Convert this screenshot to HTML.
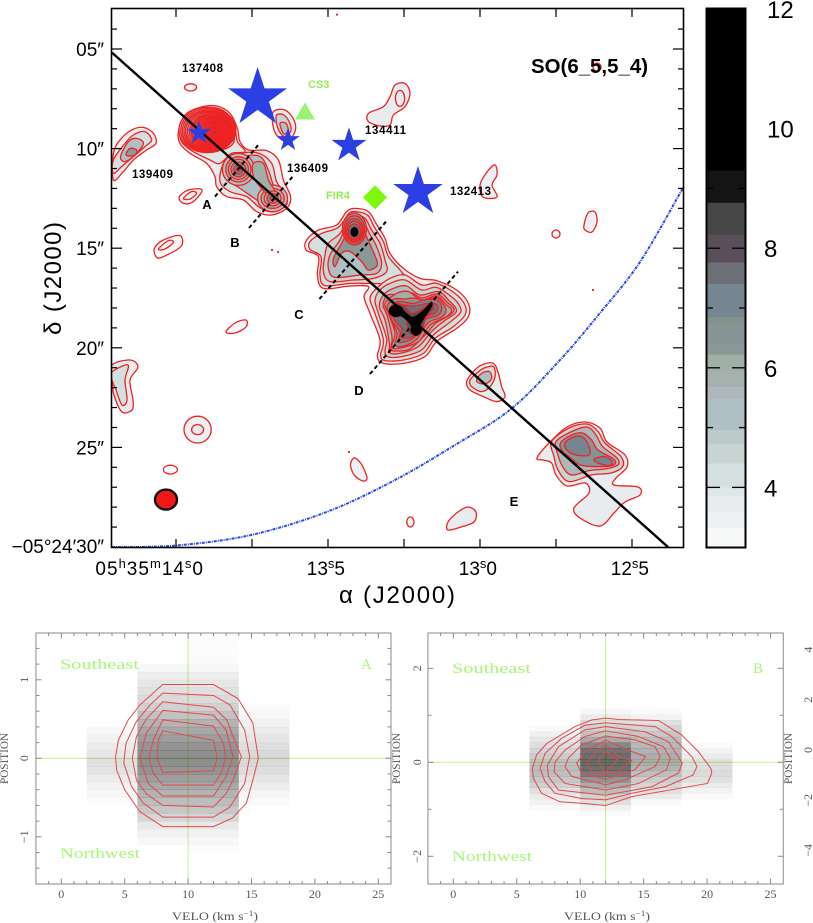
<!DOCTYPE html>
<html lang="en">
<head>
<meta charset="utf-8">
<title>SO(6_5,5_4) map and position-velocity diagrams</title>
<style>
html,body{margin:0;padding:0;background:#fff;}
body{width:813px;height:923px;overflow:hidden;}
svg{display:block;}
.sans{font-family:"Liberation Sans",sans-serif;}
.serif{font-family:"Liberation Serif",serif;}
.src{font-family:"Liberation Sans",sans-serif;font-weight:bold;font-size:11.5px;fill:#000;}
.cut{font-family:"Liberation Sans",sans-serif;font-weight:bold;font-size:13px;fill:#000;text-anchor:middle;}
.green{font-family:"Liberation Sans",sans-serif;font-weight:bold;font-size:11px;fill:#90ee50;}
.pvtxt{font-family:"Liberation Serif",serif;font-size:15px;fill:#a8f57a;}
.pvlab{font-family:"Liberation Serif",serif;font-size:12px;fill:#555;}
</style>
</head>
<body>
<svg id="figure" xmlns="http://www.w3.org/2000/svg" width="813" height="923" viewBox="0 0 813 923">
  <rect x="0" y="0" width="813" height="923" fill="#fff"/>
  <defs>
    <clipPath id="mapClip"><rect x="112" y="9" width="571" height="538"/></clipPath>
  </defs>
  <g id="mapLayer" clip-path="url(#mapClip)"></g>
  <g id="overlayLayer" clip-path="url(#mapClip)"></g>
  <g id="axisLayer"></g>
  <g id="cbarLayer"></g>
  <g id="panelA"></g>
  <g id="panelB"></g>

  <text class="sans" x="531" y="73" font-size="20" font-weight="bold" textLength="117" lengthAdjust="spacingAndGlyphs">SO(6_5,5_4)</text>
  <text class="src" x="182" y="72" textLength="41">137408</text>
  <text class="src" x="132" y="178" textLength="41">139409</text>
  <text class="src" x="287" y="172" textLength="41">136409</text>
  <text class="src" x="365" y="134" textLength="41">134411</text>
  <text class="src" x="450" y="195" textLength="41">132413</text>
  <text class="green" x="308" y="88">CS3</text>
  <text class="green" x="326" y="199">FIR4</text>
  <text class="cut" x="207" y="209">A</text>
  <text class="cut" x="235" y="247">B</text>
  <text class="cut" x="299" y="319">C</text>
  <text class="cut" x="359" y="395">D</text>
  <text class="cut" x="514" y="506">E</text>
  <text class="sans" x="339" y="603" font-size="24" textLength="116" lengthAdjust="spacing">α (J2000)</text>
  <text class="sans" transform="translate(61,335) rotate(-90)" font-size="24" textLength="113" lengthAdjust="spacing">δ (J2000)</text>

  <text class="pvtxt" x="60" y="669" textLength="79" lengthAdjust="spacingAndGlyphs">Southeast</text>
  <text class="pvtxt" x="60" y="858" textLength="80" lengthAdjust="spacingAndGlyphs">Northwest</text>
  <text class="pvtxt" x="361" y="669">A</text>
  <text class="pvlab" x="172" y="920" textLength="86" lengthAdjust="spacingAndGlyphs">VELO (km s<tspan dy="-4" font-size="8">−1</tspan><tspan dy="4">)</tspan></text>
  <text class="pvlab" transform="translate(8,784) rotate(-90)" textLength="51" lengthAdjust="spacingAndGlyphs">POSITION</text>
  <text class="pvlab" transform="translate(400,784) rotate(-90)" textLength="51" lengthAdjust="spacingAndGlyphs">POSITION</text>

  <text class="pvtxt" x="452" y="673" textLength="79" lengthAdjust="spacingAndGlyphs">Southeast</text>
  <text class="pvtxt" x="452" y="861" textLength="80" lengthAdjust="spacingAndGlyphs">Northwest</text>
  <text class="pvtxt" x="753" y="673">B</text>
  <text class="pvlab" x="564" y="920" textLength="86" lengthAdjust="spacingAndGlyphs">VELO (km s<tspan dy="-4" font-size="8">−1</tspan><tspan dy="4">)</tspan></text>
  <text class="pvlab" transform="translate(792,784) rotate(-90)" textLength="51" lengthAdjust="spacingAndGlyphs">POSITION</text>
</svg>

<script>
/* ---------- colour scale (flux level → band colour) ---------- */
const cmapLower = [9.3,8.76,8.22,7.76,7.4,6.85,6.75,6.39,6.22,5.95,5.68,5.48,4.96,4.72,4.4,4,3.85,3.58,3.32,3];
const cmapColor = ['#000000','#141414','#474747','#5a4f58','#6e7078','#768690','#84908a','#869496','#8a9898','#9fb0a6','#a6b0ae','#aeb8bc','#afc0c5','#bccbca','#c8d4d2','#d4e0e0','#dfe6e8','#e8ecee','#eef1f3','#f7f9f9'];
const cbarTicks = [4,5,6,7,8,9];
const cbarLabels = [4,6,8,10,12];

/* ---------- main map axes ---------- */
const raTicks = [14,13.75,13.5,13.25,13,12.75,12.5];
const raLabelValues = [14,13.5,13,12.5];
const raLabelText = ['05h35m14s0','13s5','13s0','12s5'];
const decTicks = [4,5,6,7,8,9,10,11,12,13,14,15,16,17,18,19,20,21,22,23,24,25,26,27,28,29];
const decLabelValues = [5,10,15,20,25,30];
const decLabelText = ['05″','10″','15″','20″','25″','−05°24′30″'];

/* ---------- map contours: [flux level, [east-to-west offset ″, north-to-south offset ″, ...]]
   offsets are relative to RA 14.00s, Dec 05″ ---------- */
const contours = [
 [3.7,[-3.13,5.22,-2.8,4.55,-2.22,4.05,-1.63,3.92,-1.13,4.22,-1,4.72,-1.47,5.05,-2.13,5.55,-2.63,6.13,-3.13,6.55]],
 [4.2,[-3.13,5.55,-2.55,4.72,-2.13,4.3,-1.55,4.13,-1.22,4.55,-1.55,4.88,-2.13,5.38,-2.72,5.88,-3.13,6.22]],
 [5,[-2.77,5.38,-2.38,4.63,-1.97,4.47,-1.63,4.72,-2.05,5.3,-2.55,5.63]],
 [6.3,[-2.5,5.25,-2.3,4.97,-1.97,5.05,-2.05,5.3,-2.38,5.35]],
 [3.7,[.12,4.13,.45,3.3,1.2,2.92,2.03,2.85,2.7,3.22,3.07,3.97,3.2,4.63,3.62,5.05,4.53,5.08,5.12,5.55,5.37,6.55,5.73,7.38,5.53,7.97,4.78,8.3,4.03,8.13,3.37,7.55,2.53,7.38,2.03,6.88,1.95,6.38,1.53,5.72,.7,5.22,.2,4.72]],
 [3.9,[.2,4.13,.5,3.38,1.2,3.02,2.03,2.95,2.62,3.3,2.95,3.97,3.07,4.63,3.45,5.13,2.78,5.22,2.2,5.72,1.7,5.55,.78,5.08,.28,4.63]],
 [4.2,[2.37,5.72,2.87,5.3,4.03,5.18,4.78,5.72,5.03,6.63,5.53,7.38,5.45,7.88,4.7,8.13,4.12,7.88,3.53,7.38,2.7,7.13,2.2,6.63]],
 [4.4,[.33,4.13,.62,3.47,1.2,3.13,2.03,3.05,2.53,3.38,2.83,4.05,2.9,4.63,2.53,4.97,1.87,5.05,1.03,4.97,.45,4.63]],
 [5.2,[2.62,5.88,3.37,5.38,4.2,5.38,4.62,6.05,4.87,6.8,5.28,7.38,5.03,7.88,4.53,7.97,4.03,7.55,3.2,6.97,2.62,6.55]],
 [6,[3.87,5.72,4.37,5.72,4.62,6.55,4.95,7.13,4.7,7.38,4.2,6.88,3.87,6.38]],
 [3.7,[4.87,3.13,5.45,3.05,5.9,3.55,5.95,4.13,5.53,4.63,5.03,4.3,4.83,3.72]],
 [4.4,[5.03,3.3,5.4,3.3,5.7,3.72,5.73,4.13,5.45,4.38,5.17,4.13,5.03,3.72]],
 [5.2,[5.2,3.72,5.5,3.72,5.62,4.13,5.37,4.22]],
 [3.7,[10.95,1.8,11.45,1.72,11.7,2.22,11.45,2.88,10.87,3.3,10.7,3.8,10.2,3.85,9.62,3.63,9.62,3.22,10.37,2.88,10.7,2.38]],
 [3,[.17,7.38,.62,7.05,1.28,7.02,1.12,7.38,.7,7.72,.28,7.67]],
 [3.4,[.37,7.47,.78,7.13,1.03,7.22,.7,7.5]],
 [3,[-1.08,9.97,-.63,9.55,.2,9.33,.25,9.87,-.63,10.38,-.97,10.42]],
 [3.4,[-.88,10,-.38,9.58,-.13,9.67,-.55,10]],
 [3,[2.5,14.15,2.95,13.7,3.5,13.55,3.5,13.9,2.95,14.2]],
 [3.4,[15.2,6.8,15.55,6.15,15.95,5.8,16.05,6.3,15.8,6.8,16.05,7.4,15.35,7.4]],
 [3.4,[20.4,8.8,20.6,8.2,20.95,8.15,21.05,8.65,20.8,9.15,20.45,9.05]],
 [3.4,[8.75,20.65,8.95,20.45,9.3,20.8,9.55,21.45,9.35,21.6,8.95,21.35,8.75,20.95]],
 [3.7,[13.6,24.05,13.6,23.65,14.1,23.15,14.6,22.9,15,23.15,14.9,23.65,14.25,23.9]],
 [3.7,[-3.2,15.8,-2.3,15.55,-1.9,15.9,-2.3,16.55,-2.15,17.55,-2.2,18.05,-2.7,18.15,-3.1,17.3,-3.2,16.55]],
 [4.2,[-3.2,16.15,-2.4,15.8,-2.55,16.55,-2.45,17.55,-2.7,17.8,-3,17.05,-3.2,16.55]],
 [3.7,[8.95,7.97,9.62,8.13,10,8.72,10.45,9.47,10.7,10.22,11.37,10.97,12.2,11.47,13.03,11.58,14.03,12.05,14.62,12.72,14.62,13.38,14.03,13.97,13.03,14.63,12.45,15.38,11.37,15.72,10.37,15.72,10.07,15.38,10.2,14.55,9.7,13.22,9.4,12.38,9.62,11.88,8.7,11.85,7.37,11.97,7.07,11.3,7.12,10.38,6.5,10.05,6.53,9.55,7.12,9.05,8.03,8.8,8.53,8.13]],
 [4,[8.95,8.13,9.57,8.3,9.9,8.88,10.37,9.63,10.62,10.38,11.2,11.05,11.45,11.47,10.7,11.72,9.7,11.72,8.7,11.72,7.45,11.83,7.2,11.3,7.25,10.38,6.7,10.02,6.7,9.63,7.28,9.22,8.12,8.92,8.62,8.25]],
 [4.6,[8.95,8.3,9.45,8.47,9.78,9.05,10.2,9.72,10.45,10.55,10.53,11.13,9.87,11.47,8.87,11.55,7.7,11.63,7.37,11.13,7.45,10.3,7.62,9.72,8.2,9.22,8.67,8.47]],
 [5.2,[8.95,8.47,9.37,8.63,9.67,9.22,10.03,9.88,10.28,10.72,10.03,11.22,9.2,11.3,7.95,11.42,7.62,10.97,7.7,10.3,8.2,9.55,8.53,8.8]],
 [6.3,[8.95,8.58,9.28,8.8,9.53,9.38,9.9,10.22,10.07,10.8,9.62,11.05,9.28,10.63,8.7,10.13,8.28,10.22,7.95,10.88,7.87,10.47,8.28,9.72,8.62,9.05]],
 [4,[10.7,11.47,11.45,11.3,12.28,11.8,13.03,11.72,13.95,12.22,14.45,12.8,14.45,13.3,13.87,13.88,12.95,14.47,12.37,15.22,11.37,15.55,10.45,15.58,10.23,15.3,10.37,14.55,9.95,13.22,9.7,12.47,10.03,11.97]],
 [4.6,[10.7,11.72,11.45,11.55,12.28,12.05,13.03,11.92,13.87,12.47,14.2,12.88,14.2,13.22,13.62,13.72,12.87,14.3,12.28,15.05,11.28,15.38,10.57,15.38,10.45,15.05,10.53,14.47,10.12,13.22,9.95,12.55,10.2,12.05]],
 [5.2,[10.87,11.97,11.53,11.85,12.2,12.3,13.12,12.13,13.7,12.63,14,12.97,13.95,13.22,13.37,13.63,12.78,14.13,12.12,14.88,11.2,15.22,10.67,15.18,10.67,14.72,10.45,13.55,10.17,12.88,10.37,12.3]],
 [5.7,[11.3,12.3,11.8,12.2,12.3,12.45,13.05,12.25,13.6,12.7,13.9,13,13.7,13.3,13,13.7,12.45,14.3,11.7,15,11,15.1,10.75,15,10.8,14.4,10.55,13.3,10.35,12.8,10.6,12.3]],
 [6.1,[11.03,12.22,11.62,12.13,12.28,12.55,13.03,12.35,13.53,12.8,13.78,13.05,13.53,13.38,12.7,13.8,12.12,14.63,11.12,14.97,10.78,14.88,10.95,14.22,10.62,13.22,10.45,12.72]],
 [6.5,[11.4,12.5,11.9,12.45,12.35,12.55,13.05,12.45,13.4,12.8,13.5,13.1,13.3,13.4,12.6,13.7,12.05,14.5,11.4,14.85,10.95,14.8,11.05,14.2,10.7,13.4,10.55,12.85,10.9,12.5]],
 [6.9,[11.87,12.72,12.37,12.55,13.03,12.55,13.28,12.88,13.12,13.3,12.45,13.55,11.95,14.38,11.45,14.63,11.12,14.63,11.2,14.13,10.78,13.55,10.7,12.97,11.12,12.63]],
 [7.5,[11.9,12.85,12.4,12.75,12.9,12.72,13.1,12.9,12.95,13.2,12.4,13.45,11.95,14.3,11.5,14.45,11.25,14.4,11.3,14,10.9,13.5,10.85,13,11.15,12.8]],
 [8,[12.37,12.97,12.7,12.72,12.87,12.97,12.53,13.38,12.28,14.05,11.95,14.3,11.62,14.13,11.45,13.38,10.87,13.38,10.7,12.97,11.03,12.72,11.45,12.88,11.78,13.22]],
 [10,[10.87,12.88,11.2,12.97,11.45,13.3,11.87,13.38,12.28,13.13,12.7,12.72,12.83,12.8,12.53,13.3,12.23,13.8,12.28,14.13,12,14.35,11.73,14.13,11.73,13.8,11.28,13.38,10.9,13.3]],
 [3.7,[15.28,15.8,15.87,15.72,16.12,16.22,16.28,16.88,16.45,17.38,16.03,17.63,15.37,17.38,14.7,17.05,14.53,16.63,14.87,16.13]],
 [4.2,[15.37,15.97,15.87,15.88,15.95,16.38,15.7,16.88,15.28,17.13,14.78,16.88,14.7,16.55,15.03,16.22]],
 [5,[15.28,16.22,15.67,16.13,15.78,16.47,15.53,16.72,15.2,16.72,15.03,16.55]],
 [3.7,[18.05,20.45,18.65,19.7,19.55,18.9,20.45,18.65,21.2,18.95,21.55,19.65,22.45,20.3,22.55,20.9,22,21.45,21.9,21.8,23.1,21.9,23.2,22.3,22.45,22.65,21.9,23.2,21.2,23.85,20.2,23.45,19.9,22.95,20.65,22.2,20.45,21.7,19.55,21.85,19,21.3,18.78,20.7,18.35,20.55]],
 [4.4,[18.78,19.63,19.65,18.95,20.55,18.75,21.1,19.13,21.45,19.7,22.25,20.38,22.33,20.88,21.75,21.2,20.78,21.3,19.65,21.63,19.1,21.05,18.9,20.38]],
 [5.6,[19,19.63,19.78,19.13,20.55,18.9,21,19.3,21.33,19.88,22.05,20.45,22.1,20.8,21.45,21,20.65,21.08,19.78,21.3,19.33,20.88,19.1,20.3]],
 [6.5,[19.22,19.7,19.78,19.3,20.33,19.2,20.78,19.55,21.1,20.05,21.88,20.5,21.88,20.8,21.1,20.88,20.22,20.8,19.65,20.38,19.33,20.13]],
 [7.2,[19.45,19.7,19.88,19.4,20.33,19.4,20.65,19.88,20.65,20.3,20,20.3,19.55,20.05]],
 [7.2,[20.9,20.5,21.45,20.38,21.8,20.63,21.65,20.83,21.1,20.7]]
];

/* rings: [flux level, offset E-W, offset N-S, radius E-W, radius N-S] in arcsec */
const rings = [
 [3.4,.73,1.92,.3,.18],[3.8,11.2,2.47,.23,.4],
 [4.5,1.57,4.05,1.42,1.13],[4.6,1.6,4.06,1.36,1.08],[4.7,1.62,4.08,1.3,1.03],[4.85,1.63,4.09,1.23,.98],[5,1.65,4.1,1.17,.93],[5.1,1.67,4.11,1.1,.88],[5.2,1.7,4.12,1.03,.83],[5.35,1.72,4.12,.97,.78],
 [5.5,1.73,4.13,.92,.73],[5.65,1.75,4.13,.86,.68],[5.8,1.77,4.13,.8,.63],[5.95,1.78,4.14,.73,.58],[6.1,1.8,4.15,.67,.53],[6.25,1.81,4.15,.61,.48],[6.4,1.83,4.15,.55,.43],[6.6,1.85,4.16,.49,.38],
 [6.8,1.87,4.17,.43,.33],[7,1.88,4.17,.37,.29],[7.2,1.9,4.17,.32,.25],[7.4,1.9,4.17,.26,.21],[7.6,1.9,4.17,.2,.17],[7.8,1.9,4.17,.15,.12],[8,1.9,4.17,.1,.08],
 [5.4,3.12,6.02,.8,.8],[5.8,3.12,6.02,.63,.63],[6.2,3.12,6.02,.5,.5],[6.6,3.12,6.02,.37,.37],[7,3.12,6.02,.23,.23],[7.6,3.12,6.02,.1,.1],
 [5.4,4.83,7.47,.75,.67],[5.8,4.83,7.47,.58,.5],[6.2,4.83,7.47,.42,.37],[6.8,4.83,7.47,.28,.25],[7.4,4.83,7.47,.13,.1],
 [6.6,8.92,9,.6,.8],[6.8,8.92,9.02,.52,.68],[7,8.92,9.05,.45,.57],[7.2,8.92,9.08,.38,.47],[7.5,8.92,9.12,.31,.37],
 [10,8.92,9.15,.2,.25],[7.6,8.92,9.15,.12,.12],
 [6,9.7,10.77,.17,.2],
 [10.5,11,13.1,.37,.3],[8,11,13.1,.13,.1],
 [3.4,1.08,19.03,.68,.67],[3.7,1.08,19.03,.3,.25],
 [3,-.28,21.03,.35,.22],
 [3,19,9.25,.2,.2],
 [3,11.72,23.65,.18,.25],
 [3,21.05,.9,.2,.2]
];
/* isolated one-pixel detections: offset E-W, offset N-S */
const dotOffsetX = [8.05,4.8,5.1,20.85,8.65];
const dotOffsetY = [-1.72,10.05,10.15,12.05,20.15];

/* ---------- overlays on the map ---------- */
const arcOffsetX = [-3.2,-.05,3.75,7.58,10.95,13.95,16.75,19.2,21.2,23.2,25.35];
const arcOffsetY = [24.9,24.83,24.3,23.13,21.55,19.8,18,15.55,13.2,10.65,6.95];
const axisLineX = [-3.2,24.6];
const axisLineY = [.185,24.9];
const cutNames = ['a','b','c','d'];
const cutStartX = [1.95,3.65,7.17,9.7];
const cutStartY = [7.38,8.95,12.5,16.25];
const cutEndX = [4.115,5.9,10.5,14.1];
const cutEndY = [4.8,6.3,8.63,11.13];
const starX = [4.08,1.15,5.6,8.65,12.1];
const starY = [2.45,4.2,4.55,4.83,7.15];
const starR = [1.55,.62,.62,.92,1.3];
const beam = [-.5,22.53,.55,.5];
const cs3 = [6.45,3.1];
const fir4 = [9.95,7.42];

/* ---------- position-velocity panels ---------- */
const pvVelTicks = [-1,0,1,2,3,4,5,6,7,8,9,10,11,12,13,14,15,16,17,18,19,20,21,22,23,24,25];
const pvVelLabels = [0,5,10,15,20,25];

const pvAPosTicks = [-1.4,-1.2,-1,-.8,-.6,-.4,-.2,0,.2,.4,.6,.8,1,1.2,1.4];
const pvAPosLabels = [-1,0,1];
const pvABinStart = [2,6,10,14];
const pvARows = [1.55,1.45,1.35,1.25,1.15,1.05,.95,.85,.75,.65,.55,.45,.35,.25,.15,.05,-.05,-.15,-.25,-.35,-.45,-.55,-.65,-.75,-.85,-.95,-1.05,-1.15];
const pvABin1 = [0,0,0,0,0,0,0,0,0,0,0,0,.03,.05,.08,.1,.12,.11,.08,.05,.03,.01,0,0,0,0,0,0];
const pvABin2 = [0,0,0,0,.03,.07,.1,.12,.14,.18,.24,.3,.34,.38,.42,.44,.44,.42,.38,.34,.3,.26,.22,.16,.09,.05,.03,0];
const pvABin3 = [.01,.01,.01,.02,.03,.07,.1,.12,.14,.18,.24,.3,.34,.38,.42,.44,.44,.42,.38,.34,.3,.26,.22,.16,.09,.05,.03,.01];
const pvABin4 = [0,0,0,0,0,0,0,0,0,.02,.03,.05,.08,.1,.13,.15,.15,.13,.1,.07,.04,.02,0,0,0,0,0,0];
const pvAContours = [
 [8,.94,12,.94,13.94,.76,15.1,.45,15.54,0,15.1,-.28,14.6,-.57,13.5,-.76,12,-.87,8,-.87,6.2,-.68,5,-.4,4.36,-.15,4.28,.02,4.5,.23,5.28,.49,6.2,.68],
 [8,.83,12,.8,13.3,.68,14.46,.36,14.86,.02,14.46,-.32,13.3,-.62,12,-.75,8,-.75,6.46,-.57,5.54,-.36,4.93,-.06,5.1,.19,5.93,.47,7,.68],
 [8,.72,12,.65,13.05,.49,13.54,.28,14.2,.02,13.54,-.28,13,-.45,12,-.62,8,-.6,6.7,-.45,5.93,-.28,5.6,0,5.93,.28,6.7,.5],
 [8,.61,12,.55,13,.36,13.54,.02,13,-.23,12,-.48,8,-.48,6.85,-.32,6.2,0,6.7,.32],
 [8,.49,12,.41,12.8,.19,12.96,0,12.6,-.19,12,-.34,8,-.34,7.25,-.19,6.9,0,7.25,.23],
 [8,.35,12,.23,12.3,0,12,-.16,8,-.18,7.56,0,7.64,.23]
];

const pvBPosTicks = [-2,-1,0,1,2];
const pvBPosLabels = [-2,0,2];
const pvBExtraLabels = [-4,-2,0,2,4];
const pvBBinStart = [6,10,14,18];
const pvBRows = [1.08,.96,.84,.72,.6,.48,.36,.24,.12,0,-.12,-.24,-.36,-.48,-.6,-.72,-.84,-.96,-1.08];
const pvBBin1 = [0,0,0,.02,.06,.1,.13,.17,.2,.24,.26,.25,.22,.18,.12,.08,.05,.02,0];
const pvBBin2 = [.03,.08,.13,.18,.24,.33,.47,.55,.57,.58,.57,.52,.42,.33,.26,.18,.12,.06,.02];
const pvBBin3 = [.02,.05,.12,.17,.22,.26,.28,.3,.32,.32,.3,.25,.2,.16,.12,.08,.02,0,0];
const pvBBin4 = [0,0,0,0,0,0,.02,.05,.08,.12,.13,.14,.12,.08,.05,.02,0,0,0];
const pvBContours = [
 [12.01,.94,13,.91,16.16,.89,18,.58,19.3,.23,20.3,-.13,20.37,-.23,20.03,-.45,16.43,-.62,14.06,-.73,12.01,-.92,10.12,-.87,8.41,-.84,6.96,-.66,6.31,-.34,6.23,-.13,6.57,.16,7.36,.4,9.59,.76,10.9,.9],
 [12,.84,15.9,.76,17.2,.55,18.8,.12,19.2,-.09,18.9,-.27,16.7,-.52,14.06,-.66,12,-.8,10.1,-.77,8.02,-.66,7.23,-.41,6.83,-.13,7.23,.19,8.54,.51,10.38,.79],
 [12,.76,15.1,.65,16.95,.44,18.05,-.02,17.74,-.23,15.64,-.52,12,-.7,8.28,-.59,7.49,-.3,7.41,-.06,8.28,.33,10.38,.69],
 [12,.67,14.6,.55,16.56,.33,17.1,.09,16.8,-.16,14.6,-.45,12,-.59,8.8,-.45,7.94,-.2,8.02,.01,8.8,.26,10.38,.55],
 [12,.56,14.3,.48,15.9,.33,16.3,.12,15.9,-.09,13.5,-.38,12,-.48,9.33,-.3,8.8,-.09,9.07,.09,10.12,.37],
 [12,.47,14.06,.23,15.16,.12,14.3,-.16,12,-.36,10.12,-.23,9.72,-.02,10.38,.23],
 [12,.38,13,.12,14.06,.04,13,-.2,12,-.27,10.9,-.2,10.56,.01,11.03,.16],
 [12,.23,12.93,.05,12,-.22,11.38,.01]
];

/* ---------- axis functions ---------- */
const alpha = ra => 176 + (14 - ra) * 304;
const delta = dec => 49 + (dec - 5) * 19.92;
const mapX = dx => alpha(14 - dx / 15.2);
const mapY = dy => delta(5 + dy * 20 / 19.92);
const cbarY = v => 9 + (12 - v) * 59.8;
const NS = 'http://www.w3.org/2000/svg';
function add(parent, tag, attrs, text) {
  const el = document.createElementNS(NS, tag);
  for (const k in attrs) el.setAttribute(k, attrs[k]);
  if (text !== undefined) el.textContent = text;
  parent.appendChild(el);
  return el;
}
function levelColor(v) {
  for (let i = 0; i < cmapLower.length; i++) if (v >= cmapLower[i]) return cmapColor[i];
  return '#ffffff';
}
function closedSpline(p) {
  const n = p.length;
  let d = 'M' + p[0][0].toFixed(2) + ' ' + p[0][1].toFixed(2);
  for (let i = 0; i < n; i++) {
    const a = p[(i - 1 + n) % n], b = p[i], c = p[(i + 1) % n], e = p[(i + 2) % n];
    d += 'C' + (b[0] + (c[0] - a[0]) / 6).toFixed(2) + ' ' + (b[1] + (c[1] - a[1]) / 6).toFixed(2) + ' ' +
         (c[0] - (e[0] - b[0]) / 6).toFixed(2) + ' ' + (c[1] - (e[1] - b[1]) / 6).toFixed(2) + ' ' +
         c[0].toFixed(2) + ' ' + c[1].toFixed(2);
  }
  return d + 'Z';
}
function openSpline(p) {
  const n = p.length;
  let d = 'M' + p[0][0].toFixed(2) + ' ' + p[0][1].toFixed(2);
  for (let i = 0; i < n - 1; i++) {
    const a = p[Math.max(i - 1, 0)], b = p[i], c = p[i + 1], e = p[Math.min(i + 2, n - 1)];
    d += 'C' + (b[0] + (c[0] - a[0]) / 6).toFixed(2) + ' ' + (b[1] + (c[1] - a[1]) / 6).toFixed(2) + ' ' +
         (c[0] - (e[0] - b[0]) / 6).toFixed(2) + ' ' + (c[1] - (e[1] - b[1]) / 6).toFixed(2) + ' ' +
         c[0].toFixed(2) + ' ' + c[1].toFixed(2);
  }
  return d;
}
function starPath(cx, cy, R) {
  let d = '';
  for (let i = 0; i < 10; i++) {
    const r = i % 2 ? R * 0.382 : R, t = -Math.PI / 2 + i * Math.PI / 5;
    d += (i ? 'L' : 'M') + (cx + r * Math.cos(t)).toFixed(2) + ' ' + (cy + r * Math.sin(t)).toFixed(2);
  }
  return d + 'Z';
}

/* ---------- contour map ---------- */
const mapLayer = document.getElementById('mapLayer');
const marks = [];
contours.forEach(c => marks.push({level: c[0], poly: c[1]}));
rings.forEach(r => marks.push({level: r[0], ring: r}));
marks.map((m, i) => [m, i]).sort((a, b) => a[0].level - b[0].level || a[1] - b[1]).forEach(([m]) => {
  const fill = levelColor(m.level);
  if (m.poly) {
    const pts = [];
    for (let i = 0; i < m.poly.length; i += 2) pts.push([mapX(m.poly[i]), mapY(m.poly[i + 1])]);
    const el = add(mapLayer, 'path', {d: closedSpline(pts), fill: fill, stroke: m.level >= 9 ? 'none' : '#ee2222', 'stroke-width': 1.3, 'stroke-linejoin': 'round'});
    
    
  } else {
    const r = m.ring;
    const rx = mapX(r[3]) - mapX(0), ry = mapY(r[4]) - mapY(0);
    const el = add(mapLayer, 'ellipse', {cx: mapX(r[1]), cy: mapY(r[2]), rx: rx, ry: ry, fill: fill, stroke: m.level >= 9 ? 'none' : '#ee2222', 'stroke-width': 1.3});
    
    
  }
});
dotOffsetX.forEach((dx, i) => {
  const el = add(mapLayer, 'circle', {cx: mapX(dx), cy: mapY(dotOffsetY[i]), r: 1.1, fill: '#ee2222'});
  
  
});

/* ---------- overlays ---------- */
const overlay = document.getElementById('overlayLayer');
const arcEl = add(overlay, 'path', {d: openSpline(arcOffsetX.map((x, i) => [mapX(x), mapY(arcOffsetY[i])])), fill: 'none', stroke: '#2a46e6', 'stroke-width': 2, 'stroke-dasharray': '3 1 1 1'});


const axisEl = add(overlay, 'line', {x1: mapX(axisLineX[0]), y1: mapY(axisLineY[0]), x2: mapX(axisLineX[1]), y2: mapY(axisLineY[1]), stroke: '#000', 'stroke-width': 2.4});


cutNames.forEach((n, i) => {
  const el = add(overlay, 'line', {x1: mapX(cutStartX[i]), y1: mapY(cutStartY[i]), x2: mapX(cutEndX[i]), y2: mapY(cutEndY[i]), stroke: '#000', 'stroke-width': 2, 'stroke-dasharray': '4 3'});
  
  
});
starX.forEach((x, i) => {
  const el = add(overlay, 'path', {d: starPath(mapX(x), mapY(starY[i]), starR[i] * 20), fill: '#2b3fe4'});
  
  
});
const tri = add(overlay, 'path', {d: 'M' + mapX(cs3[0]) + ' ' + (mapY(cs3[1]) - 8.5) + 'l10 17h-20z', fill: '#9cf270'});


const dia = add(overlay, 'path', {d: 'M' + mapX(fir4[0]) + ' ' + (mapY(fir4[1]) - 12) + 'l12 12l-12 12l-12 -12z', fill: '#7cf80a'});


const beamEl = add(overlay, 'ellipse', {cx: mapX(beam[0]), cy: mapY(beam[1]), rx: beam[2] * 20, ry: beam[3] * 20, fill: '#f01818', stroke: '#111', 'stroke-width': 2.4});



/* ---------- map axes ---------- */
const axisLayer = document.getElementById('axisLayer');
const frame = add(axisLayer, 'rect', {x: 111.5, y: 8.5, width: 572, height: 539, fill: 'none', stroke: '#000', 'stroke-width': 1.6});


raTicks.forEach(ra => {
  const x = alpha(ra);
  const a = add(axisLayer, 'line', {x1: x, y1: 9, x2: x, y2: 17, stroke: '#000', 'stroke-width': 1.2});
  
  
  const b = add(axisLayer, 'line', {x1: x, y1: 547, x2: x, y2: 539, stroke: '#000', 'stroke-width': 1.2});
  
  
});
decTicks.forEach(dec => {
  const y = delta(dec), len = dec % 5 === 0 ? 10 : 5;
  const a = add(axisLayer, 'line', {x1: 112, y1: y, x2: 112 + len, y2: y, stroke: '#000', 'stroke-width': 1.2});
  
  
  const b = add(axisLayer, 'line', {x1: 683, y1: y, x2: 683 - len, y2: y, stroke: '#000', 'stroke-width': 1.2});
  
  
});
decLabelValues.forEach((d, i) => {
  const el = add(axisLayer, 'text', {x: 104, y: Math.min(delta(d), 546) + 7, 'text-anchor': 'end', 'font-size': 19, 'font-family': '"Liberation Sans",sans-serif'}, decLabelText[i]);
  
  
});
raLabelValues.forEach((ra, i) => {
  const el = add(axisLayer, 'text', {x: alpha(ra) + (i === 0 ? 28 : 17), y: 575, 'text-anchor': 'end', 'font-size': 19, 'letter-spacing': i === 0 ? 1 : 0, 'font-family': '"Liberation Sans",sans-serif'});
  
  
  raLabelText[i].split(/([hms])/).forEach(part => {
    if (!part) return;
    const sup = /^[hms]$/.test(part);
    const ts = add(el, 'tspan', sup ? {'font-size': 13, dy: -7} : {dy: el.childNodes.length ? 7 : 0}, part);
    
    
  });
});

/* ---------- colour bar ---------- */
const cbar = document.getElementById('cbarLayer');
cmapLower.forEach((low, i) => {
  const top = i === 0 ? 12 : cmapLower[i - 1];
  const el = add(cbar, 'rect', {x: 707, y: cbarY(top), width: 38, height: cbarY(low) - cbarY(top) + .4, fill: cmapColor[i]});
  
  
});
const cbFrame = add(cbar, 'rect', {x: 706.5, y: 8.5, width: 39, height: 539, fill: 'none', stroke: '#000', 'stroke-width': 2});


cbarTicks.forEach(v => {
  const y = cbarY(v), len = v % 2 === 0 ? 13 : 6;
  const a = add(cbar, 'line', {x1: 707, y1: y, x2: 707 + len, y2: y, stroke: '#000', 'stroke-width': 1.3});
  
  
  const b = add(cbar, 'line', {x1: 745, y1: y, x2: 745 - len, y2: y, stroke: '#000', 'stroke-width': 1.3});
  
  
});
cbarLabels.forEach(v => {
  const el = add(cbar, 'text', {x: v >= 10 ? 767 : 764, y: cbarY(v) + 9, 'font-size': 24, 'font-family': '"Liberation Sans",sans-serif'}, String(v));
  
  
});

/* ---------- PV panels ---------- */
function drawPanel(g, xOf, yOf, bins, rows, binValues, rowStep, pvContours, crossV, yTicks, yLabels, labelX) {
  const frameL = xOf(-2), frameR = xOf(26), frameT = 633, frameB = 884;
  const ch = add(g, 'line', {x1: xOf(crossV), y1: frameT, x2: xOf(crossV), y2: frameB, stroke: '#c6f28e', 'stroke-width': 1});
  
  
  const cv = add(g, 'line', {x1: frameL, y1: yOf(0), x2: frameR, y2: yOf(0), stroke: '#c6f28e', 'stroke-width': 1});
  
  
  bins.forEach((start, b) => {
    rows.forEach((p, r) => {
      const v = binValues[b][r];
      if (!v) return;
      const gray = Math.round(255 * (1 - v));
      const el = add(g, 'rect', {x: xOf(start), y: yOf(p + rowStep / 2), width: xOf(start + 4) - xOf(start), height: yOf(p - rowStep / 2) - yOf(p + rowStep / 2) + .3, fill: 'rgb(' + gray + ',' + gray + ',' + gray + ')', style: 'mix-blend-mode:multiply'});
      
      
    });
  });
  pvContours.forEach(c => {
    const pts = [];
    for (let i = 0; i < c.length; i += 2) pts.push(xOf(c[i]).toFixed(2) + ',' + yOf(c[i + 1]).toFixed(2));
    const el = add(g, 'polygon', {points: pts.join(' '), fill: 'none', stroke: '#e2484c', 'stroke-width': 1});
    
    
  });
  const f = add(g, 'rect', {x: frameL, y: frameT, width: frameR - frameL, height: frameB - frameT, fill: 'none', stroke: '#8a8a8a', 'stroke-width': 1});
  
  
  pvVelTicks.forEach(v => {
    const len = v % 5 === 0 ? 5.5 : 3;
    const a = add(g, 'line', {x1: xOf(v), y1: frameT, x2: xOf(v), y2: frameT + len, stroke: '#8a8a8a', 'stroke-width': 1});
    
    
    const b = add(g, 'line', {x1: xOf(v), y1: frameB, x2: xOf(v), y2: frameB - len, stroke: '#8a8a8a', 'stroke-width': 1});
    
    
  });
  yTicks.forEach(p => {
    const len = yLabels.includes(p) ? 5.5 : 3.5;
    const a = add(g, 'line', {x1: frameL, y1: yOf(p), x2: frameL + len, y2: yOf(p), stroke: '#8a8a8a', 'stroke-width': 1});
    
    
    const b = add(g, 'line', {x1: frameR, y1: yOf(p), x2: frameR - len, y2: yOf(p), stroke: '#8a8a8a', 'stroke-width': 1});
    
    
  });
  pvVelLabels.forEach(v => {
    const el = add(g, 'text', {x: xOf(v), y: 898, 'text-anchor': 'middle', class: 'pvlab'}, String(v));
    
    
  });
  yLabels.forEach(p => {
    const el = add(g, 'text', {transform: 'translate(' + labelX + ',' + yOf(p) + ') rotate(-90)', 'text-anchor': 'middle', class: 'pvlab'}, String(p).replace('-', '−'));
    
    
  });
}
const pvAx = v => 61.3 + v * 12.68;
const pvAy = p => 758.3 - p * 78.5;
const pvBx = v => 453.3 + v * 12.69;
const pvBy = p => 762.3 - p * 47;
const pvCy2 = p => 750 - p * 25.1;
drawPanel(document.getElementById('panelA'), pvAx, pvAy, pvABinStart, pvARows, [pvABin1, pvABin2, pvABin3, pvABin4], .1, pvAContours, 10, pvAPosTicks, pvAPosLabels, 28);
drawPanel(document.getElementById('panelB'), pvBx, pvBy, pvBBinStart, pvBRows, [pvBBin1, pvBBin2, pvBBin3, pvBBin4], .12, pvBContours, 12, pvBPosTicks, pvBPosLabels, 421);
pvBExtraLabels.forEach(p => {
  const el = add(document.getElementById('panelB'), 'text', {transform: 'translate(812,' + pvCy2(p) + ') rotate(-90)', 'text-anchor': 'middle', class: 'pvlab'}, String(p).replace('-', '−'));
  
  
});
</script>
</body>
</html>
